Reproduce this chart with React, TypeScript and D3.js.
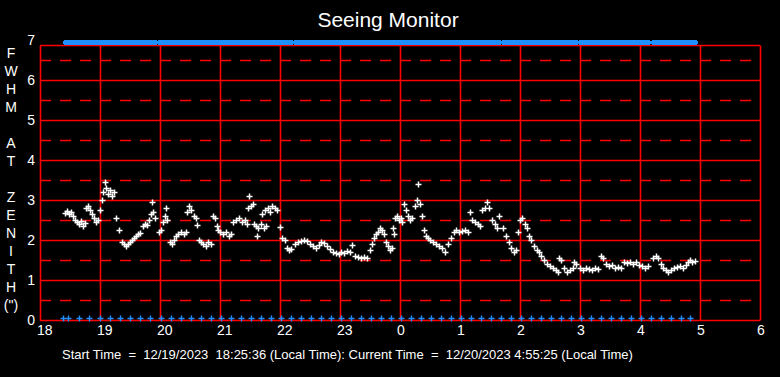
import React from "react";
import * as d3 from "d3";

// minutes since 18:00 local time
const obsMinutes = [
  25, 27, 29, 31, 33, 35, 37, 39, 41, 43, 45, 46, 48, 50, 52, 54, 56, 58, 60,
  62, 63, 65, 66, 68, 70, 72, 74, 76, 79, 82, 84, 86, 88, 90, 92, 94, 96, 98, 100,
  103, 105, 107, 109, 111, 112, 113, 115, 119, 121, 123, 125, 126, 127, 130, 132, 134,
  136, 138, 141, 144, 146, 147, 149, 151, 154, 156, 157, 159, 161, 163, 166, 168, 171,
  173, 175, 177, 178, 180, 183, 186, 189, 191, 193, 196, 199, 202, 205, 207, 208, 209,
  211, 213, 214, 216, 217, 218, 221, 222, 224, 225, 226, 228, 230, 232, 235, 237, 240,
  242, 245, 247, 249, 251, 255, 258, 261, 264, 267, 270, 273, 276, 279, 281, 284, 287,
  290, 293, 296, 299, 301, 304, 307, 310, 312, 315, 318, 321, 324, 327, 330, 332, 334,
  336, 338, 340, 342, 344, 346, 348, 350, 352, 353, 354, 355, 357, 359, 361, 362, 364,
  366, 368, 370, 372, 375, 377, 378, 380, 382, 384, 386, 388, 390, 393, 396, 399, 402,
  405, 408, 411, 414, 416, 419, 422, 425, 428, 430, 432, 435, 438, 440, 442, 445, 447,
  449, 452, 455, 457, 459, 463, 466, 469, 471, 474, 476, 478, 480, 482, 485, 487, 489,
  491, 494, 497, 499, 501, 504, 507, 510, 513, 516, 518, 519, 521, 524, 527, 530, 533,
  534, 536, 540, 543, 546, 549, 552, 555, 558, 561, 563, 566, 569, 572, 575, 578, 581,
  584, 587, 590, 593, 596, 599, 602, 605, 608, 613, 616, 618, 621, 623, 626, 628, 631,
  634, 637, 640, 643, 646, 648, 650, 652, 655,
];

// seeing FWHM at zenith (arcsec)
const fwhm = [
  2.68, 2.72, 2.65, 2.7, 2.6, 2.5, 2.45, 2.4, 2.48, 2.35, 2.42, 2.8, 2.85, 2.75, 2.65, 2.55, 2.45, 2.5, 2.75,
  3.0, 3.2, 3.45, 3.3, 3.15, 3.25, 3.1, 3.2, 2.55, 2.25, 1.95, 1.9, 1.85, 1.9, 1.95, 2.0, 2.05, 2.1, 2.15, 2.18,
  2.35, 2.4, 2.38, 2.5, 2.65, 2.95, 2.7, 2.55, 2.2, 2.25, 2.45, 2.6, 2.8, 2.5, 1.95, 1.9, 2.0,
  2.1, 2.15, 2.2, 2.15, 2.2, 2.7, 2.85, 2.75, 2.6, 2.55, 2.37, 2.0, 1.95, 1.9, 1.85, 1.95, 1.9,
  2.6, 2.55, 2.35, 2.25, 2.2, 2.15, 2.2, 2.1, 2.15, 2.45, 2.5, 2.55, 2.45, 2.5, 2.4, 2.8, 3.1,
  2.85, 2.9, 2.4, 2.35, 2.1, 2.3, 2.4, 2.65, 2.3, 2.75, 2.35, 2.8, 2.7, 2.85, 2.8, 2.75, 2.33,
  2.05, 2.0, 1.8, 1.75, 1.78, 1.9, 1.95, 1.98, 2.0, 1.97, 1.9, 1.85, 1.8, 1.88, 1.95, 1.92, 1.85,
  1.78, 1.7, 1.68, 1.65, 1.7, 1.68, 1.72, 1.7, 1.87, 1.6, 1.58, 1.55, 1.57, 1.55, 1.75, 1.9, 2.05,
  2.15, 2.2, 2.3, 2.25, 2.15, 1.95, 1.85, 1.75, 1.8, 2.3, 2.15, 2.55, 2.6, 2.5, 2.55, 2.45, 2.9,
  2.75, 2.6, 2.5, 2.55, 2.85, 3.0, 3.4, 2.9, 2.6, 2.25, 2.1, 2.05, 2.0, 1.95, 1.9, 1.85, 1.8,
  1.7, 1.9, 2.05, 2.2, 2.25, 2.2, 2.22, 2.25, 2.2, 2.7, 2.5, 2.45, 2.4, 2.35, 2.75, 2.8, 2.95,
  2.8, 2.5, 2.4, 2.3, 2.6, 2.3, 2.1, 1.95, 1.8, 1.7, 1.75, 2.2, 2.5, 2.55, 2.4, 2.3, 2.1,
  2.0, 1.85, 1.75, 1.7, 1.6, 1.5, 1.4, 1.35, 1.3, 1.25, 1.2, 1.55, 1.5, 1.3, 1.2, 1.25, 1.3,
  1.45, 1.4, 1.3, 1.25, 1.3, 1.28, 1.25, 1.3, 1.27, 1.6, 1.55, 1.4, 1.35, 1.38, 1.3, 1.33, 1.3,
  1.45, 1.42, 1.45, 1.4, 1.45, 1.38, 1.35, 1.3, 1.35, 1.55, 1.6, 1.55, 1.4, 1.3, 1.25, 1.2, 1.25,
  1.3, 1.32, 1.35, 1.3, 1.38, 1.45, 1.5, 1.45, 1.48,
];

// secondary status markers along the bottom (minutes since 18:00)
const statusMinutes = [
  23, 28, 39, 49, 60, 70, 80, 90, 100, 110, 121, 131, 141, 151, 161, 171, 181, 191, 201,
  211, 221, 231, 241, 251, 261, 271, 281, 291, 301, 311, 321, 331, 341, 351, 361, 371, 381,
  391, 401, 411, 421, 431, 441, 451, 461, 471, 481, 491, 501, 511, 521, 531, 541, 551, 561,
  571, 581, 591, 601, 611, 621, 631, 641, 650,
];

const hourTicks = [0, 60, 120, 180, 240, 300, 360, 420, 480, 540, 600, 660, 720];
const hourLabels = ["18", "19", "20", "21", "22", "23", "0", "1", "2", "3", "4", "5", "6"];
const yTicks = [0, 1, 2, 3, 4, 5, 6, 7];
const yHalfTicks = [0.5, 1.5, 2.5, 3.5, 4.5, 5.5, 6.5];
const yAxisLetters = ["F", "W", "H", "M", "", "A", "T", "", "Z", "E", "N", "I", "T", "H", "(\")"];

const title = "Seeing Monitor";
const footer =
  "Start Time  =  12/19/2023  18:25:36 (Local Time): Current Time  =  12/20/2023 4:55:25 (Local Time)";

const W = 780;
const H = 377;
const FONT = "'Liberation Sans', Arial, sans-serif";
const RED = "#ff0000";
const BLUE = "#1e90ff";

export default function App() {
  const x = d3.scaleLinear().domain([0, 720]).range([40, 760]);
  const y = d3.scaleLinear().domain([0, 7]).range([320, 40]);
  const frameTop = y(6.875);
  const px = (v: number) => Math.round(v) + 0.5;

  const plus = (cx: number, cy: number, r: number) =>
    `M${cx - r},${cy}H${cx + r}M${cx},${cy - r}V${cy + r}`;

  const whitePath = obsMinutes
    .map((m, i) => plus(px(x(m)), px(y(fwhm[i])), 3))
    .join("");
  const topPath = obsMinutes.map((m) => plus(px(x(m)), px(y(7)) + 2, 2.5)).join("");
  const botPath = statusMinutes.map((m) => plus(px(x(m)), px(y(0)) - 2, 3)).join("");

  return (
    <svg
      width={W}
      height={H}
      style={{ position: "absolute", left: 0, top: 0, background: "#000" }}
    >
      <rect x={0} y={0} width={W} height={H} fill="#000" />
      <text x={388} y={27} fill="#fff" fontFamily={FONT} fontSize={21} textAnchor="middle">
        {title}
      </text>

      {/* dashed half-unit lines */}
      {yHalfTicks.map((v) => (
        <line
          key={"h" + v}
          x1={x(0)}
          x2={x(720)}
          y1={px(y(v))}
          y2={px(y(v))}
          stroke={RED}
          strokeWidth={1.6}
          strokeDasharray="11 9"
        />
      ))}
      {/* solid grid */}
      {yTicks.slice(0, 7).map((v) => (
        <line
          key={"s" + v}
          x1={x(0)}
          x2={x(720)}
          y1={px(y(v))}
          y2={px(y(v))}
          stroke={RED}
          strokeWidth={1.6}
        />
      ))}
      <line x1={x(0)} x2={x(720)} y1={px(frameTop)} y2={px(frameTop)} stroke={RED} strokeWidth={1.6} />
      {hourTicks.map((m) => (
        <line
          key={"v" + m}
          x1={px(x(m))}
          x2={px(x(m))}
          y1={px(frameTop)}
          y2={px(y(0))}
          stroke={RED}
          strokeWidth={1.6}
        />
      ))}

      <path d={topPath} stroke={BLUE} strokeWidth={3} fill="none" />
      <path d={botPath} stroke={BLUE} strokeWidth={1.4} fill="none" />
      <path d={whitePath} stroke="#fff" strokeWidth={1.5} fill="none" />

      {yTicks.map((v) => (
        <text
          key={"yl" + v}
          x={35}
          y={y(v) + 5}
          fill="#fff"
          fontFamily={FONT}
          fontSize={14}
          textAnchor="end"
        >
          {v}
        </text>
      ))}
      {hourTicks.map((m, i) => (
        <text
          key={"xl" + m}
          x={x(m) - 3}
          y={335}
          fill="#fff"
          fontFamily={FONT}
          fontSize={14}
          textAnchor="start"
        >
          {hourLabels[i]}
        </text>
      ))}
      {yAxisLetters.map((c, i) => (
        <text
          key={"al" + i}
          x={11}
          y={58 + i * 18}
          fill="#fff"
          fontFamily={FONT}
          fontSize={14}
          textAnchor="middle"
        >
          {c}
        </text>
      ))}
      <text
        x={62}
        y={359}
        fill="#fff"
        fontFamily={FONT}
        fontSize={13}
        style={{ whiteSpace: "pre" }}
      >
        {footer}
      </text>
    </svg>
  );
}
